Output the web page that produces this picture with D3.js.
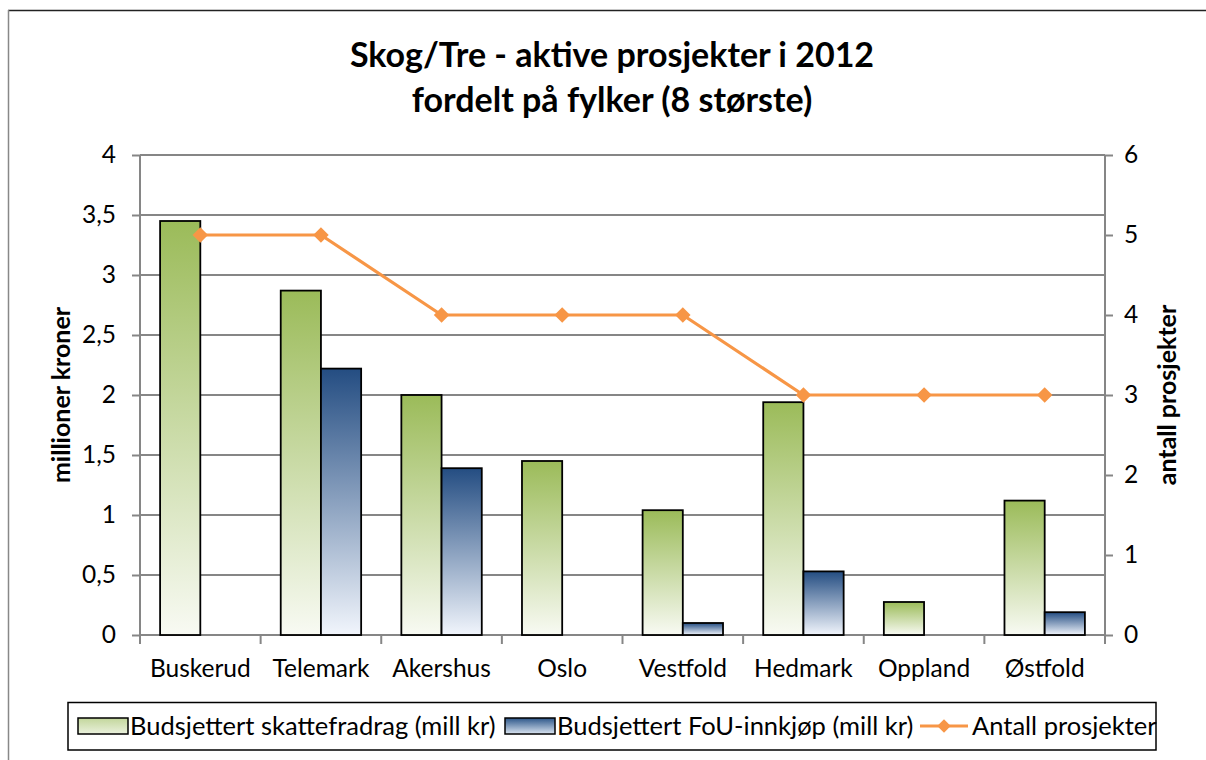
<!DOCTYPE html>
<html>
<head>
<meta charset="utf-8">
<script src="https://cdn.jsdelivr.net/npm/d3@7"></script>
<style>
  html, body { margin: 0; padding: 0; background: #fff; }
  svg { display: block; }
  text { font-family: Lato, "Open Sans", sans-serif; fill: #000; }
</style>
</head>
<body>
<svg id="chart" width="1206" height="760"></svg>
<script>
// Counties (the eight largest) and their budgets / project counts for 2012
const categories = ["Buskerud", "Telemark", "Akershus", "Oslo", "Vestfold", "Hedmark", "Oppland", "Østfold"];
const skattefradrag = [3.45, 2.87, 2.00, 1.45, 1.04, 1.94, 0.275, 1.12];
const fouInnkjop   = [0, 2.22, 1.39, 0, 0.10, 0.53, 0, 0.19];
const antallProsjekter = [5, 5, 4, 4, 4, 3, 3, 3];

const seriesNames = ["Budsjettert skattefradrag (mill kr)", "Budsjettert FoU-innkjøp (mill kr)", "Antall prosjekter"];
const leftTicks = [0, 0.5, 1, 1.5, 2, 2.5, 3, 3.5, 4];
const rightTicks = [0, 1, 2, 3, 4, 5, 6];
const titleLines = ["Skog/Tre - aktive prosjekter i 2012", "fordelt på fylker (8 største)"];

const svg = d3.select("#chart");
const nb = d3.formatLocale({ decimal: ",", thousands: " ", grouping: [3], currency: ["", " kr"] });
const fmt = v => nb.format("")(v);

const plot = { left: 140, right: 1105, top: 155, bottom: 635 };

const x = d3.scaleBand().domain(categories).range([plot.left, plot.right]).paddingInner(0).paddingOuter(0);
const bw = x.bandwidth();
const xs = d3.scaleBand().domain([0, 1]).range([bw / 6, bw * 5 / 6]);
const yL = d3.scaleLinear().domain([0, 4]).range([plot.bottom, plot.top]);
const yR = d3.scaleLinear().domain([0, 6]).range([plot.bottom, plot.top]);

// vertical gradients for the bars and legend swatches
const defs = svg.append("defs");
function grad(id, top, bottom) {
  const g = defs.append("linearGradient").attr("id", id).attr("x1", 0).attr("y1", 0).attr("x2", 0).attr("y2", 1);
  g.append("stop").attr("offset", "0%").attr("stop-color", top);
  g.append("stop").attr("offset", "100%").attr("stop-color", bottom);
}
grad("gGreen", "#9bbb59", "#f8faf3");
grad("gBlue", "#244d82", "#f1f5fc");
grad("gGreenL", "#c2d69b", "#eaf1dd");
grad("gBlueL", "#2c5689", "#dbe5f1");

// outer chart frame
svg.append("line").attr("x1", 8).attr("x2", 1206).attr("y1", 10.5).attr("y2", 10.5).attr("stroke", "#222").attr("stroke-width", 1.5);
svg.append("line").attr("x1", 8.5).attr("x2", 8.5).attr("y1", 10).attr("y2", 760).attr("stroke", "#888").attr("stroke-width", 1.5);

// title
const title = svg.append("text").attr("text-anchor", "middle").attr("font-weight", "bold").attr("font-size", 34);
titleLines.forEach((t, i) => title.append("tspan").attr("x", 612).attr("y", 67 + i * 45).text(t));

// gridlines
svg.append("g").selectAll("line").data(leftTicks).join("line")
  .attr("x1", plot.left).attr("x2", plot.right)
  .attr("y1", d => yL(d)).attr("y2", d => yL(d))
  .attr("stroke", "#868686").attr("stroke-width", 2);

// left axis
const axL = svg.append("g").attr("transform", `translate(${plot.left},0)`)
  .call(d3.axisLeft(yL).tickValues(leftTicks).tickFormat(fmt).tickSize(8).tickPadding(16));
// right axis
const axR = svg.append("g").attr("transform", `translate(${plot.right},0)`)
  .call(d3.axisRight(yR).tickValues(rightTicks).tickFormat(d3.format("d")).tickSize(8).tickPadding(11));
// bottom axis (labels only; boundary ticks drawn below)
const axB = svg.append("g").attr("transform", `translate(0,${plot.bottom})`)
  .call(d3.axisBottom(x).tickSize(0).tickPadding(24));
[axL, axR, axB].forEach(a => {
  a.select(".domain").attr("stroke", "#868686").attr("stroke-width", 2);
  a.selectAll(".tick line").attr("stroke", "#868686").attr("stroke-width", 2);
  a.selectAll(".tick text").attr("font-size", 24.5).attr("font-family", "Lato, sans-serif").attr("fill", "#000");
});
axB.select(".domain").remove();
axL.select(".domain").attr("d", `M0,${plot.top}V${plot.bottom + 8}`);
axR.select(".domain").attr("d", `M0,${plot.top}V${plot.bottom + 8}`);
axB.selectAll(".tick text").attr("y", 0).attr("dy", 0).attr("transform", "translate(0,42)");
const bounds = categories.map(c => x(c)).concat([plot.right]);
svg.append("g").selectAll("line").data(bounds).join("line")
  .attr("x1", d => d).attr("x2", d => d).attr("y1", plot.bottom).attr("y2", plot.bottom + 9)
  .attr("stroke", "#868686").attr("stroke-width", 2);

// axis titles
svg.append("text").attr("transform", `translate(70,395) rotate(-90)`).attr("text-anchor", "middle")
  .attr("font-weight", "bold").attr("font-size", 25).text("millioner kroner");
svg.append("text").attr("transform", `translate(1176,395) rotate(-90)`).attr("text-anchor", "middle")
  .attr("font-weight", "bold").attr("font-size", 25).text("antall prosjekter");

// bars
const bars = svg.append("g");
[[skattefradrag, "url(#gGreen)"], [fouInnkjop, "url(#gBlue)"]].forEach(([vals, fill], si) => {
  bars.append("g").selectAll("rect").data(vals.map((v, i) => ({ v, c: categories[i] })).filter(d => d.v > 0)).join("rect")
    .attr("x", d => x(d.c) + xs(si))
    .attr("width", xs.bandwidth())
    .attr("y", d => yL(d.v))
    .attr("height", d => yL(0) - yL(d.v))
    .attr("fill", fill).attr("stroke", "#000").attr("stroke-width", 1.8);
});

// project-count line with diamond markers
const pts = antallProsjekter.map((v, i) => [x(categories[i]) + bw / 2, yR(v)]);
svg.append("path").datum(pts).attr("d", d3.line()).attr("fill", "none")
  .attr("stroke", "#f79646").attr("stroke-width", 3.2);
svg.append("g").selectAll("path").data(pts).join("path")
  .attr("d", d3.symbol().type(d3.symbolSquare).size(120))
  .attr("transform", d => `translate(${d[0]},${d[1]}) rotate(45)`)
  .attr("fill", "#f79646");

// legend
const lg = svg.append("g");
lg.append("rect").attr("x", 68).attr("y", 702.5).attr("width", 1088).attr("height", 47.5)
  .attr("fill", "#fff").attr("stroke", "#000").attr("stroke-width", 1.5);
const legendItems = [
  { x: 78, name: seriesNames[0], type: "bar", fill: "url(#gGreenL)" },
  { x: 505, name: seriesNames[1], type: "bar", fill: "url(#gBlueL)" },
  { x: 920, name: seriesNames[2], type: "line" }
];
legendItems.forEach(it => {
  if (it.type === "bar") {
    lg.append("rect").attr("x", it.x).attr("y", 718).attr("width", 50).attr("height", 16)
      .attr("fill", it.fill).attr("stroke", "#000").attr("stroke-width", 1.5);
  } else {
    lg.append("line").attr("x1", it.x).attr("x2", it.x + 48).attr("y1", 726).attr("y2", 726)
      .attr("stroke", "#f79646").attr("stroke-width", 3.2);
    lg.append("path").attr("d", d3.symbol().type(d3.symbolSquare).size(90)())
      .attr("transform", `translate(${it.x + 24},726) rotate(45)`).attr("fill", "#f79646");
  }
  lg.append("text").attr("x", it.x + 52).attr("y", 735).attr("font-size", 25.5).text(it.name);
});
</script>
</body>
</html>
